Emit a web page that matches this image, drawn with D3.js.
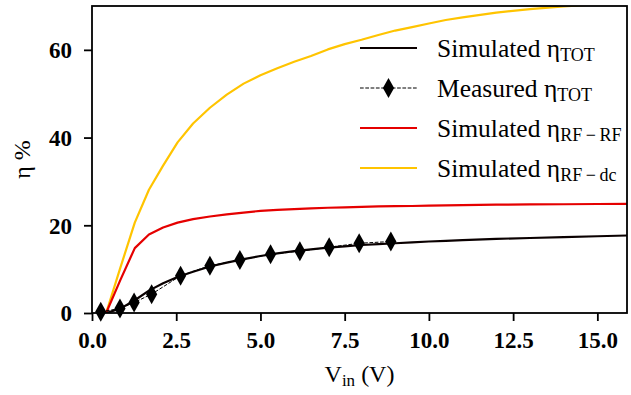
<!DOCTYPE html>
<html><head><meta charset="utf-8">
<script src="https://cdn.jsdelivr.net/npm/d3@7"></script>
<style>
body{margin:0;background:#fff} svg{display:block}
svg text{font-family:"Liberation Serif","Times New Roman",Times,"Nimbus Roman","DejaVu Serif",serif;}
</style>
</head><body><svg id="c" width="631" height="395"></svg>
<script>
// ---- data ----
const simX     = [0.42, 0.84, 1.27, 1.69, 2.11, 2.54, 3.0, 3.5, 4.0, 4.5, 5.0, 5.5, 6.0, 6.5, 7.0, 7.5, 8.0, 8.5, 9.0, 9.5, 10.0, 10.5, 11.0, 12.0, 13.0, 14.0, 15.0, 16.0];
const simTot   = [0, 1.0, 2.9, 5.1, 6.8, 8.2, 9.4, 10.6, 11.5, 12.3, 13.0, 13.6, 14.1, 14.5, 14.9, 15.2, 15.5, 15.7, 15.9, 16.1, 16.3, 16.45, 16.6, 16.9, 17.1, 17.3, 17.5, 17.7];
const simRFRF  = [0, 7.5, 14.8, 17.9, 19.5, 20.6, 21.4, 22.0, 22.5, 22.9, 23.3, 23.5, 23.7, 23.85, 24.0, 24.1, 24.2, 24.3, 24.35, 24.4, 24.5, 24.55, 24.6, 24.7, 24.75, 24.8, 24.85, 24.9];
const simRFdc  = [0, 10.3, 20.6, 28.1, 33.6, 38.9, 43.2, 46.8, 49.8, 52.3, 54.2, 55.8, 57.3, 58.6, 60.1, 61.3, 62.3, 63.4, 64.4, 65.2, 66.0, 66.8, 67.4, 68.5, 69.3, 69.9, 70.4, 70.9];
const measX    = [0.26, 0.83, 1.25, 1.77, 2.63, 3.50, 4.39, 5.30, 6.17, 7.04, 7.93, 8.87];
const measTot  = [0.3, 1.0, 2.4, 4.3, 8.5, 10.8, 12.1, 13.4, 14.1, 15.0, 15.9, 16.3];
const xTicks   = [0, 2.5, 5, 7.5, 10, 12.5, 15];
const yTicks   = [0, 20, 40, 60];
const legendLabels = [
  {main: "Simulated η", sub: "TOT"},
  {main: "Measured η", sub: "TOT"},
  {main: "Simulated η", sub: "RF\u2009\u2212\u2009RF"},
  {main: "Simulated η", sub: "RF\u2009\u2212\u2009dc"}
];
const colors = {tot: "#0a0000", rfrf: "#e50000", rfdc: "#ffc400"};

// ---- layout ----
const svg = d3.select("#c");
const L = 92, R = 627, T = 6, B = 313;
const x = d3.scaleLinear().domain([0, 15.88]).range([L, R]);
const y = d3.scaleLinear().domain([0, 70]).range([B, T]);

svg.append("defs").append("clipPath").attr("id", "clip")
  .append("rect").attr("x", L).attr("y", T).attr("width", R - L).attr("height", B - T);

const plot = svg.append("g").attr("clip-path", "url(#clip)");
const line = (xs, ys) => d3.line().x((d, i) => x(xs[i])).y(d => y(d))(ys);

plot.append("path").attr("d", line(simX, simRFdc)).attr("fill", "none")
  .attr("stroke", colors.rfdc).attr("stroke-width", 2.2).attr("stroke-linejoin", "round");
plot.append("path").attr("d", line(simX, simRFRF)).attr("fill", "none")
  .attr("stroke", colors.rfrf).attr("stroke-width", 2.2).attr("stroke-linejoin", "round");
plot.append("path").attr("d", line(simX, simTot)).attr("fill", "none")
  .attr("stroke", colors.tot).attr("stroke-width", 2.2).attr("stroke-linejoin", "round");
plot.append("path").attr("d", line(measX, measTot)).attr("fill", "none")
  .attr("stroke", "#000").attr("stroke-width", 1).attr("stroke-dasharray", "3.7,1.6");

const diamond = (cx, cy) => `M${cx},${cy - 10}L${cx + 5.6},${cy}L${cx},${cy + 10}L${cx - 5.6},${cy}Z`;
svg.append("g").selectAll("path").data(measTot).join("path")
  .attr("d", (d, i) => diamond(x(measX[i]), y(d))).attr("fill", "#000");

// ---- axes ----
const xAxis = svg.append("g").attr("transform", `translate(0,${B})`)
  .call(d3.axisBottom(x).tickValues(xTicks).tickFormat(d3.format(".1f")).tickSize(8).tickPadding(11).tickSizeOuter(0));
const yAxis = svg.append("g").attr("transform", `translate(${L},0)`)
  .call(d3.axisLeft(y).tickValues(yTicks).tickFormat(d3.format("d")).tickSize(8).tickPadding(12).tickSizeOuter(0));
[xAxis, yAxis].forEach(a => {
  a.attr("font-family", null);
  a.select(".domain").remove();
  a.selectAll(".tick line").attr("stroke", "#000").attr("stroke-width", 1.8);
  a.selectAll(".tick text").attr("font-weight", "bold")
    .attr("font-size", 23).attr("fill", "#000");
});
yAxis.selectAll(".tick text").attr("dy", "0.34em");

svg.append("rect").attr("x", L).attr("y", T).attr("width", R - L).attr("height", B - T)
  .attr("fill", "none").attr("stroke", "#000").attr("stroke-width", 1.8);

// axis labels
const xl = svg.append("text").attr("x", (L + R) / 2).attr("y", 382).attr("text-anchor", "middle")
  .attr("font-size", 24).attr("fill", "#000");
xl.append("tspan").text("V");
xl.append("tspan").attr("font-size", 17).attr("dy", 4).text("in");
xl.append("tspan").attr("dy", -4).text(" (V)");

svg.append("text").attr("transform", `translate(30,${(T + B) / 2}) rotate(-90)`)
  .attr("text-anchor", "middle").attr("font-size", 24).attr("fill", "#000")
  .text("η %");

// ---- legend ----
const lg = svg.append("g");
const rowY = i => 48 + i * 40;
const lx0 = 360, lx1 = 417, tx = 437;
lg.append("line").attr("x1", lx0).attr("x2", lx1).attr("y1", rowY(0)).attr("y2", rowY(0))
  .attr("stroke", colors.tot).attr("stroke-width", 2.2);
lg.append("line").attr("x1", lx0).attr("x2", lx1).attr("y1", rowY(1)).attr("y2", rowY(1))
  .attr("stroke", "#000").attr("stroke-width", 1).attr("stroke-dasharray", "3.7,1.6");
lg.append("path").attr("d", diamond((lx0 + lx1) / 2, rowY(1))).attr("fill", "#000");
lg.append("line").attr("x1", lx0).attr("x2", lx1).attr("y1", rowY(2)).attr("y2", rowY(2))
  .attr("stroke", colors.rfrf).attr("stroke-width", 2.2);
lg.append("line").attr("x1", lx0).attr("x2", lx1).attr("y1", rowY(3)).attr("y2", rowY(3))
  .attr("stroke", colors.rfdc).attr("stroke-width", 2.2);

legendLabels.forEach((lab, i) => {
  const t = lg.append("text").attr("x", tx).attr("y", rowY(i) + 9)
    .attr("font-size", 25.5).attr("fill", "#000");
  t.append("tspan").text(lab.main);
  t.append("tspan").attr("font-size", 18).attr("dy", 4).text(lab.sub);
});
</script></body></html>
